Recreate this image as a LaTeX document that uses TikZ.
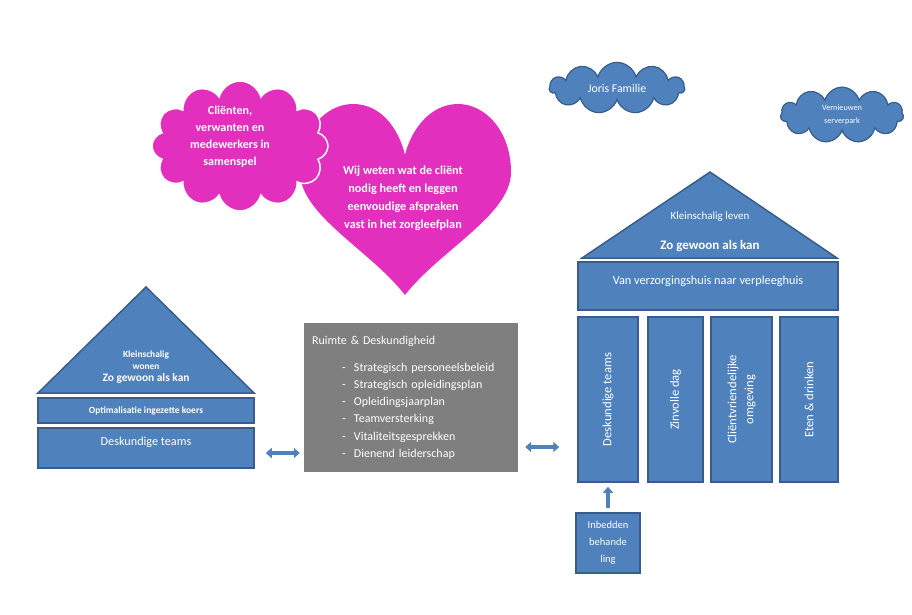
\documentclass[tikz,border=0pt]{standalone}
\usepackage{fontspec}
\setmainfont{Carlito}
\usetikzlibrary{shapes.symbols,arrows.meta}
\definecolor{boxblue}{RGB}{79,129,189}
\definecolor{rimblue}{RGB}{56,93,138}
\definecolor{roze}{RGB}{226,47,190}
\definecolor{grijs}{RGB}{127,127,127}

\begin{document}
\begin{tikzpicture}[x=1pt,y=-1pt,
    blok/.style={draw=rimblue,line width=1.5pt,fill=boxblue,text=white,align=center},
    wolk/.style={cloud,cloud puffs=11,draw=rimblue,line width=1.2pt,fill=boxblue,text=white,align=center},
    dubbel/.style={boxblue,line width=4pt,{Triangle[width=10pt,length=6pt]}-{Triangle[width=10pt,length=6pt]}},
    pijl/.style={boxblue,line width=4pt,-{Triangle[width=10pt,length=6pt]}}]
    \useasboundingbox[fill=white] (0,0) rectangle (912,614);

    % hart
    \fill[roze] (405,295) .. controls (370,250) and (300,215) .. (300,172)
        .. controls (300,132) and (325,104) .. (353,104)
        .. controls (382,104) and (399,130) .. (405,155)
        .. controls (411,130) and (430,104) .. (458,104)
        .. controls (486,104) and (511,132) .. (511,172)
        .. controls (511,215) and (440,250) .. (405,295);
    \node[text=white,align=center,font=\bfseries\fontsize{12.2}{18}\selectfont] (hart) at (403,198)
        {Wij weten wat de cliënt\\nodig heeft en leggen\\eenvoudige afspraken\\vast in het zorgleefplan};
    \node[cloud,cloud puffs=12,aspect=1.35,fill=roze,draw=white,line width=1.5pt,
        minimum width=176pt,minimum height=130pt] (rozewolk) at (240,146) {};
    \node[text=white,align=center,font=\bfseries\fontsize{12}{17}\selectfont] (samenspel) at (230,137)
        {Cliënten,\\verwanten en\\medewerkers in\\samenspel};

    % wolken
    \node[wolk,aspect=2.8,minimum width=135pt,minimum height=49pt,font=\fontsize{11.8}{12}\selectfont] (joris) at (617,88) {Joris Familie};
    \node[wolk,aspect=2.4,minimum width=123pt,minimum height=50pt,font=\fontsize{8.2}{13}\selectfont] (server) at (842,115) {Vernieuwen\\serverpark};

    % huis links
    \draw[blok] (38,393) -- (146,287) -- (254,393) -- cycle;
    \node[text=white,align=center,font=\bfseries\fontsize{9.4}{12}\selectfont] (wonen) at (146,360) {Kleinschalig\\wonen};
    \node[text=white,font=\bfseries\fontsize{11.4}{12}\selectfont] (gewoonl) at (146,378) {Zo gewoon als kan};
    \node[blok,minimum width=216pt,minimum height=25pt,font=\bfseries\fontsize{9.5}{10}\selectfont] (koers) at (146,410.5) {Optimalisatie ingezette koers};
    \node[blok,minimum width=216pt,inner ysep=4pt,text height=13pt,text depth=19pt,font=\fontsize{12.2}{12}\selectfont] (teamsl) at (146,448) {Deskundige teams};

    % ruimte en deskundigheid
    \node[fill=grijs,minimum width=214pt,minimum height=149pt,text width=198pt,align=left,
        text=white,font=\fontsize{12}{17.2}\selectfont] (ruimte) at (411,397.5)
        {Ruimte \& Deskundigheid\\[10pt]
        \hspace*{30pt}\makebox[12pt][l]{-}Strategisch personeelsbeleid\\
        \hspace*{30pt}\makebox[12pt][l]{-}Strategisch opleidingsplan\\
        \hspace*{30pt}\makebox[12pt][l]{-}Opleidingsjaarplan\\
        \hspace*{30pt}\makebox[12pt][l]{-}Teamversterking\\
        \hspace*{30pt}\makebox[12pt][l]{-}Vitaliteitsgesprekken\\
        \hspace*{30pt}\makebox[12pt][l]{-}Dienend leiderschap};

    % huis rechts
    \draw[blok] (582,258) -- (710,172) -- (837,258) -- cycle;
    \node[text=white,font=\fontsize{11}{12}\selectfont] (leven) at (710,217) {Kleinschalig leven};
    \node[text=white,font=\bfseries\fontsize{13}{12}\selectfont] (gewoonr) at (710,246) {Zo gewoon als kan};
    \node[blok,minimum width=260pt,inner ysep=4pt,text height=18pt,text depth=22pt,font=\fontsize{12.3}{12}\selectfont] (verpleeg) at (708,286) {Van verzorgingshuis naar verpleeghuis};
    \node[blok,rotate=90,minimum width=165pt,minimum height=60pt,font=\fontsize{12.6}{12}\selectfont] (p1) at (608,399.5) {Deskundige teams};
    \node[blok,rotate=90,minimum width=165pt,minimum height=55pt,font=\fontsize{12.6}{12}\selectfont] (p2) at (675.5,399.5) {Zinvolle dag};
    \node[blok,rotate=90,minimum width=165pt,minimum height=61pt,font=\fontsize{12.6}{17}\selectfont] (p3) at (741.5,399.5) {Cliëntvriendelijke\\omgeving};
    \node[blok,rotate=90,minimum width=165pt,minimum height=58pt,font=\fontsize{12.6}{12}\selectfont] (p4) at (809,399.5) {Eten \& drinken};
    \node[blok,minimum width=64pt,minimum height=60pt,font=\fontsize{10.5}{17}\selectfont] (inbed) at (608,543) {Inbedden\\behande\\ling};

    % pijlen
    \draw[pijl,shorten <=4pt,shorten >=4pt] (inbed) -- (p1);
    \draw[dubbel,shorten <=11pt,shorten >=4pt] ([yshift=-5pt]teamsl.east) -- ([yshift=-5pt]teamsl.east -| ruimte.west);
    \draw[dubbel,shorten <=7pt,shorten >=18pt] ([yshift=-49.5pt]ruimte.east) -- ([yshift=-49.5pt]ruimte.east -| p1.north);
\end{tikzpicture}
\end{document}
